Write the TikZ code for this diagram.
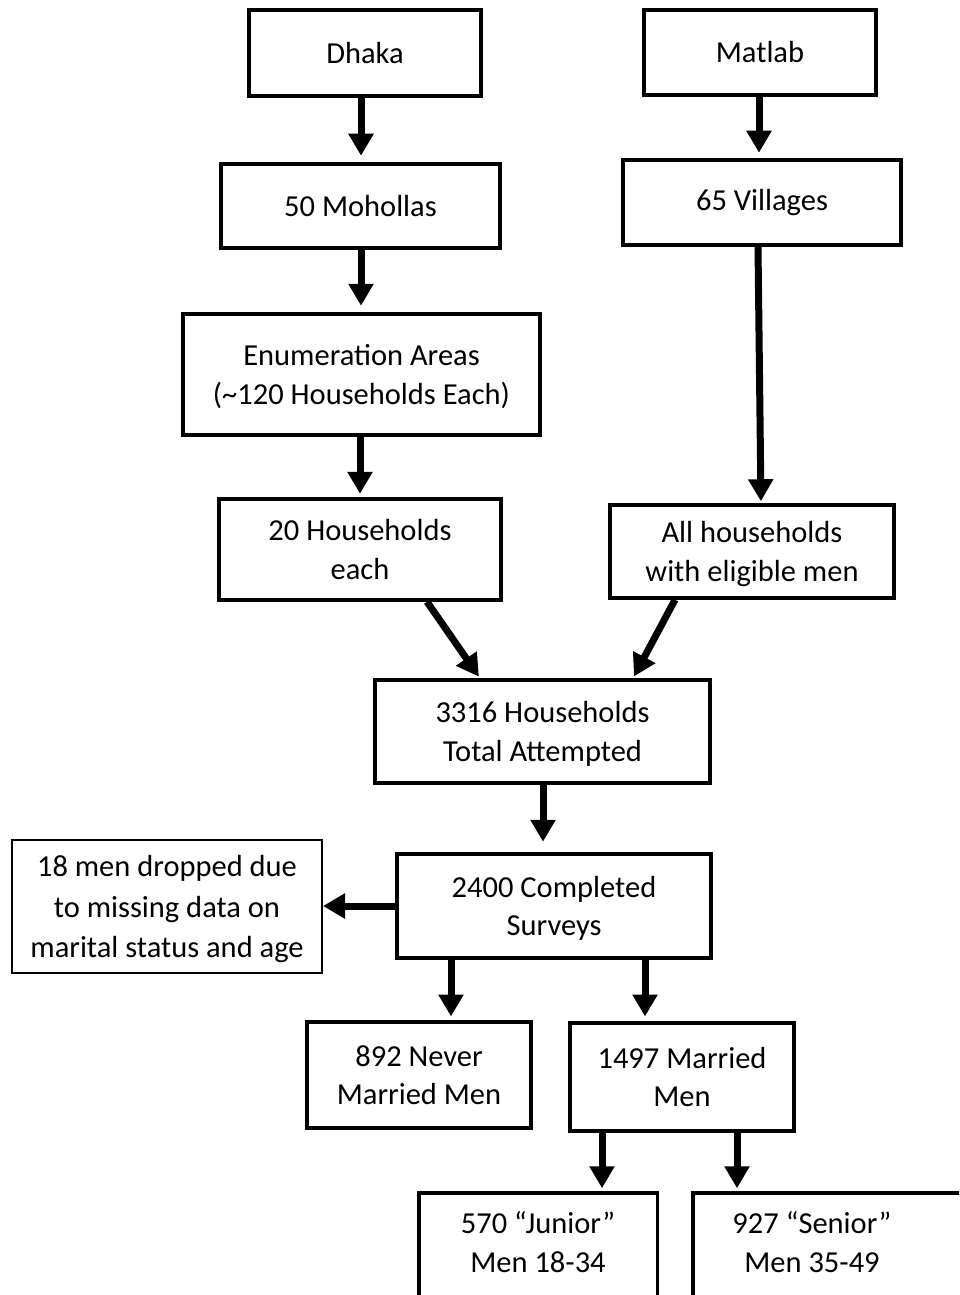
\documentclass[tikz,border=0pt]{standalone}
\usepackage{fontspec}
\setmainfont{Carlito}
\usetikzlibrary{arrows.meta,calc}
\begin{document}
\begin{tikzpicture}[x=1pt,y=-1pt,
  box/.style={draw=black, line width=3.5pt, fill=white, align=center, inner sep=0pt,
    font=\fontsize{30.5}{38.5}\selectfont},
  multi/.style={text depth=0pt},
  thinbox/.style={box, line width=2pt, font=\fontsize{30.5}{40.5}\selectfont},
  txt/.style={align=center, inner sep=0pt, font=\fontsize{30.5}{38.5}\selectfont},
  arr/.style={line width=7pt, -{Triangle[length=22pt,width=24pt]}}]
\useasboundingbox (0,0) rectangle (959,1295);
\clip (0,0) rectangle (959,1295);
% nodes
\node[box, minimum width=232pt, minimum height=86pt] (dhaka) at (365,53) {Dhaka};
\node[box, minimum width=279pt, minimum height=84pt] (mohollas) at (360.5,206) {50 Mohollas};
\node[box, minimum width=232pt, minimum height=85pt] (matlab) at (760,52.5) {Matlab};
\node[box, minimum width=278pt, minimum height=85pt] (villages) at (762,202.5) {65 Villages};
\node[box, multi, minimum width=357pt, minimum height=121pt] (enum) at (361.5,374.5) {Enumeration Areas\\(\textasciitilde120 Households Each)};
\node[box, multi, minimum width=282pt, minimum height=101pt] (hh20) at (360,549.5) {20 Households\\each};
\node[box, multi, minimum width=284pt, minimum height=93pt] (allhh) at (752,551.5) {All households\\with eligible men};
\node[box, multi, minimum width=335pt, minimum height=103pt] (total) at (542.5,731.5) {3316 Households\\Total Attempted};
\node[box, multi, minimum width=314pt, minimum height=104pt] (completed) at (554,906) {2400 Completed\\Surveys};
\node[thinbox, multi, minimum width=310pt, minimum height=133pt] (dropped) at (167,906.5) {18 men dropped due\\to missing data on\\marital status and age};
\node[box, multi, minimum width=224pt, minimum height=106pt] (never) at (419,1075) {892 Never\\Married Men};
\node[box, multi, minimum width=224pt, minimum height=108pt] (married) at (682,1077) {1497 Married\\Men};
\node[box, minimum width=238.5pt, minimum height=110.5pt] (junbox) at (538,1248) {};
\node[box, minimum width=307.25pt, minimum height=110.5pt] (senbox) at (846.4,1248) {};
\node[txt, multi] (junior) at (538,1242) {570 “Junior”\\Men 18-34};
\node[txt, multi] (senior) at (812,1242) {927 “Senior”\\Men 35-49};
% connectors
\draw[arr, shorten >=6.5pt] ([xshift=-4pt]dhaka.south) -- ([xshift=-4pt]dhaka.south |- mohollas.north);
\draw[arr, shorten >=5.5pt] ([xshift=-1pt]matlab.south) -- ([xshift=-1pt]matlab.south |- villages.north);
\draw[arr, shorten >=6.5pt] ([xshift=0.5pt]mohollas.south) -- ([xshift=0.5pt]mohollas.south |- enum.north);
\draw[arr, shorten >=2pt] ([xshift=-4pt]villages.south) -- ([xshift=9pt]allhh.north);
\draw[arr, shorten >=3.5pt] ([xshift=-1.5pt]enum.south) -- ([xshift=-1.5pt]enum.south |- hh20.north);
\draw[arr, shorten >=2pt] ([xshift=67pt]hh20.south) -- ([xshift=-62.5pt]total.north);
\draw[arr, shorten >=2pt] ([xshift=-77pt]allhh.south) -- ([xshift=90.5pt]total.north);
\draw[arr, shorten >=10.5pt] ([xshift=0.5pt]total.south) -- ([xshift=0.5pt]total.south |- completed.north);
\draw[arr] (completed.west) -- (completed.west -| dropped.east);
\draw[arr, shorten >=3.75pt] ([xshift=-103pt]completed.south) -- ([xshift=-103pt]completed.south |- never.north);
\draw[arr, shorten >=4.75pt] ([xshift=91pt]completed.south) -- ([xshift=91pt]completed.south |- married.north);
\draw[arr, shorten >=2.75pt] ([xshift=-80pt]married.south) -- ([xshift=-80pt]married.south |- junbox.north);
\draw[arr, shorten >=2.75pt] ([xshift=55pt]married.south) -- ([xshift=55pt]married.south |- senbox.north);
\end{tikzpicture}
\end{document}
